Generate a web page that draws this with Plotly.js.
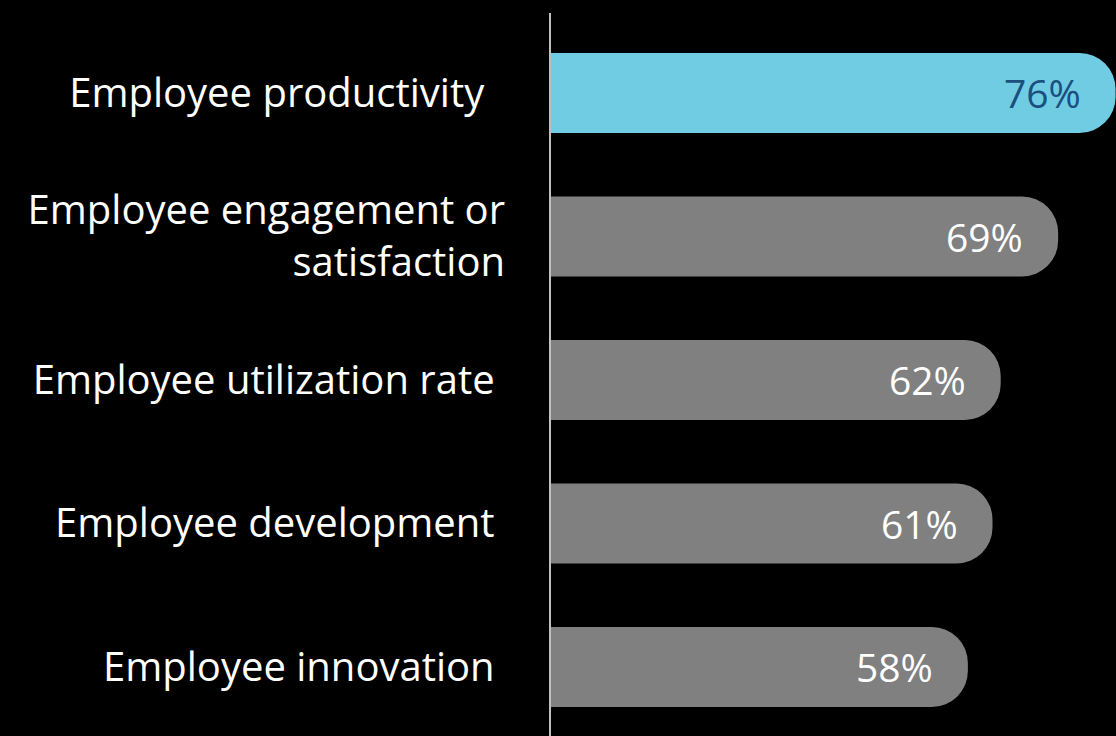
<!DOCTYPE html>
<html>
<head>
<meta charset="utf-8">
<script src="https://cdn.plot.ly/plotly-3.0.1.min.js"></script>
<style>
  html, body { margin: 0; padding: 0; background: #000; }
  #chart { width: 1116px; height: 736px; }
</style>
</head>
<body>
<div id="chart"></div>
<script>
const categories = [
  "Employee productivity\u00a0\u00a0",
  "Employee engagement or<br>satisfaction",
  "Employee utilization rate\u00a0",
  "Employee development\u00a0",
  "Employee innovation\u00a0"
];
const values = [76, 69, 62, 61, 58];
const valueLabels = ["76%", "69%", "62%", "61%", "58%"];
const barColors = ["#70CCE3", "#808080", "#808080", "#808080", "#808080"];
const labelColors = ["#1B4F7E", "#FFFFFF", "#FFFFFF", "#FFFFFF", "#FFFFFF"];

const trace = {
  type: "bar",
  orientation: "h",
  y: categories,
  x: values,
  width: 0.557,
  marker: { color: barColors, cornerradius: 36, line: { width: 0 } },
  hoverinfo: "none"
};

const annotations = values.map((v, i) => ({
  x: v,
  y: categories[i],
  xref: "x",
  yref: "y",
  text: valueLabels[i],
  showarrow: false,
  xanchor: "right",
  yanchor: "middle",
  xshift: -33,
  font: { family: "Open Sans", size: 39, color: labelColors[i] }
}));

const layout = {
  width: 1116,
  height: 736,
  paper_bgcolor: "#000000",
  plot_bgcolor: "#000000",
  margin: { l: 551, r: 0, t: 13, b: 0 },
  showlegend: false,
  xaxis: {
    range: [7.2, 76.05],
    showgrid: false,
    zeroline: false,
    showticklabels: false,
    showline: false,
    fixedrange: true
  },
  yaxis: {
    type: "category",
    range: [4.481, -0.557],
    showgrid: false,
    zeroline: false,
    showline: true,
    linecolor: "#BFBFBF",
    linewidth: 2,
    ticks: "",
    ticklabelstandoff: 36,
    tickfont: { family: "Open Sans", size: 40, color: "#FFFFFF" },
    fixedrange: true
  },
  annotations: annotations,
  font: { family: "Open Sans", color: "#FFFFFF" }
};

Plotly.newPlot("chart", [trace], layout, { displayModeBar: false, staticPlot: true });
</script>
</body>
</html>
